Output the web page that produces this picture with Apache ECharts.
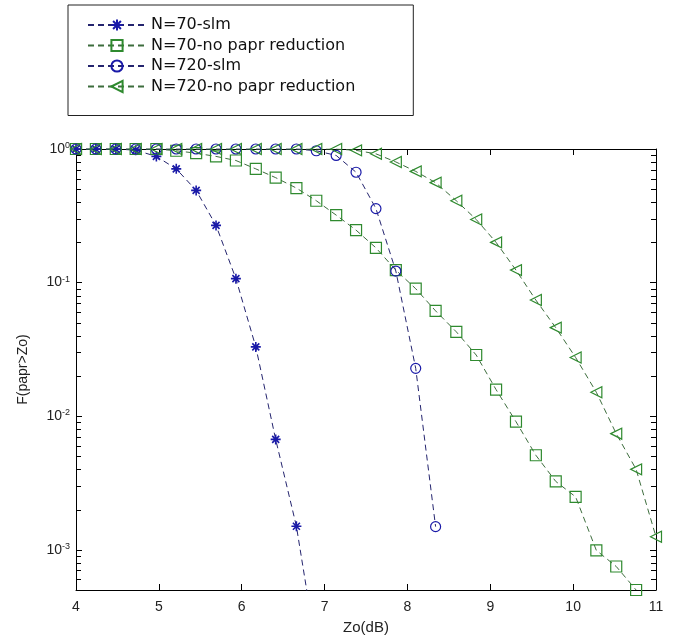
<!DOCTYPE html>
<html>
<head>
<meta charset="utf-8">
<script src="https://cdn.jsdelivr.net/npm/echarts@6/dist/echarts.min.js"></script>
<style>
  html, body { margin: 0; padding: 0; background: #fff; }
  #papr { width: 676px; height: 640px; }
</style>
</head>
<body>
<div id="papr"></div>
<script>
// Zo (dB) sample points, 30 points from 4 to 11
const zo = [4.00, 4.24, 4.48, 4.72, 4.97, 5.21, 5.45, 5.69, 5.93, 6.17,
  6.41, 6.66, 6.90, 7.14, 7.38, 7.62, 7.86, 8.10, 8.34, 8.59,
  8.83, 9.07, 9.31, 9.55, 9.79, 10.03, 10.28, 10.52, 10.76, 11.00]

// CCDF values
const n70Slm = [1, 1, 1, 0.98, 0.88, 0.71, 0.49, 0.268, 0.107, 0.033,
  0.0067, 0.0015, 0.00018]
const n70NoRed = [1, 1, 1, 1, 1, 0.97, 0.93, 0.88, 0.82, 0.71,
  0.61, 0.51, 0.41, 0.32, 0.247, 0.182, 0.124, 0.09, 0.0614, 0.0428,
  0.0287, 0.0158, 0.0091, 0.0051, 0.00325, 0.00249, 0.00099, 0.00075, 0.0005]
const n720Slm = [1, 1, 1, 1, 1, 1, 1, 1, 1, 1,
  1, 1, 0.97, 0.895, 0.67, 0.358, 0.122, 0.0228, 0.00149]
const n720NoRed = [1, 1, 1, 1, 1, 1, 1, 1, 1, 1,
  1, 1, 1, 1, 0.977, 0.92, 0.80, 0.68, 0.56, 0.41,
  0.297, 0.20, 0.124, 0.074, 0.046, 0.0275, 0.0151, 0.0074, 0.0040, 0.00125]

const seriesNames = ['N=70-slm', 'N=70-no papr reduction', 'N=720-slm', 'N=720-no papr reduction']

// log minor tick values (2..9 x 10^k)
const minorTicks = [6e-4, 7e-4, 8e-4, 9e-4,
  2e-3, 3e-3, 4e-3, 5e-3, 6e-3, 7e-3, 8e-3, 9e-3,
  2e-2, 3e-2, 4e-2, 5e-2, 6e-2, 7e-2, 8e-2, 9e-2,
  2e-1, 3e-1, 4e-1, 5e-1, 6e-1, 7e-1, 8e-1, 9e-1]

const blue = '#1a1aa8'
const blueLine = '#24246e'
const green = '#2f8a2f'
const greenLine = '#3d6d3d'

const starPath = 'path://M-5,0L5,0M0,-5L0,5M-3.5,-3.5L3.5,3.5M-3.5,3.5L3.5,-3.5'
const triPath = 'path://M-4.5,0L4,-5L4,5Z'

function pairs(vals) {
  return vals.map((v, i) => [zo[i], v])
}

function makeLine(name, vals, symbol, size, color, lineColor, bw) {
  return {
    name: name,
    type: 'line',
    data: pairs(vals),
    symbol: symbol,
    symbolSize: size,
    showAllSymbol: true,
    smooth: false,
    clip: true,
    lineStyle: { color: lineColor, width: 1, type: [6, 4] },
    itemStyle: { color: 'rgba(255,255,255,0)', borderColor: color, borderWidth: bw },
    emphasis: { disabled: true },
    z: 3
  }
}

const chart = echarts.init(document.getElementById('papr'))

const font = 'Liberation Sans, Arial, sans-serif'

const option = {
  animation: false,
  backgroundColor: '#fff',
  textStyle: { fontFamily: font },
  legend: {
    data: seriesNames,
    orient: 'vertical',
    left: 68,
    top: 5,
    padding: [12, 58, 21, 19],
    itemWidth: 58,
    itemHeight: 14,
    itemGap: 4.5,
    backgroundColor: '#fff',
    borderColor: '#222',
    borderWidth: 1,
    borderRadius: 0,
    selectedMode: false,
    textStyle: { fontFamily: 'DejaVu Sans', fontSize: 16, lineHeight: 16, color: '#111' }
  },
  grid: {
    left: 76,
    right: 20,
    top: 149,
    bottom: 47
  },
  xAxis: [
    {
      type: 'value',
      min: 4,
      max: 11,
      interval: 1,
      name: 'Zo(dB)',
      nameLocation: 'middle',
      nameGap: 30,
      nameTextStyle: { fontSize: 15, color: '#222' },
      axisLine: { onZero: false, lineStyle: { color: '#000', width: 1 } },
      axisTick: { inside: true, length: 6, lineStyle: { color: '#000' } },
      axisLabel: { fontSize: 14, color: '#222', margin: 10 },
      splitLine: { show: false }
    },
    {
      type: 'value',
      position: 'top',
      min: 4,
      max: 11,
      interval: 1,
      axisLine: { onZero: false, lineStyle: { color: '#000', width: 1 } },
      axisTick: { inside: true, length: 6, lineStyle: { color: '#000' } },
      axisLabel: { show: false },
      splitLine: { show: false }
    }
  ],
  yAxis: [
    {
      type: 'log',
      logBase: 10,
      min: 5e-4,
      max: 1,
      name: 'F(papr>Zo)',
      nameLocation: 'middle',
      nameGap: 46,
      nameTextStyle: { fontSize: 14, color: '#222' },
      axisLine: { onZero: false, lineStyle: { color: '#000', width: 1 } },
      axisTick: { inside: true, length: 6, lineStyle: { color: '#000' } },
      axisLabel: {
        margin: 6,
        formatter: function(v) {
          const e = Math.round(Math.log10(v))
          if (Math.abs(Math.log10(v) - e) > 1e-6) return ''
          return '{b|10}{s|' + e + '}'
        },
        rich: {
          b: { fontSize: 14, lineHeight: 16, color: '#222' },
          s: { fontSize: 9, lineHeight: 9, verticalAlign: 'top', color: '#222' }
        }
      },
      splitLine: { show: false }
    },
    {
      type: 'log',
      logBase: 10,
      position: 'right',
      min: 5e-4,
      max: 1,
      axisLine: { onZero: false, lineStyle: { color: '#000', width: 1 } },
      axisTick: { inside: true, length: 6, lineStyle: { color: '#000' } },
      axisLabel: { show: false },
      splitLine: { show: false }
    }
  ],
  series: [
    makeLine(seriesNames[0], n70Slm, starPath, 10, blue, blueLine, 1.6),
    makeLine(seriesNames[1], n70NoRed, 'rect', 11, green, greenLine, 1.2),
    makeLine(seriesNames[2], n720Slm, 'circle', 10, blue, blueLine, 1.2),
    makeLine(seriesNames[3], n720NoRed, triPath, 11, green, greenLine, 1.2),
    {
      // minor ticks of the log axis on both sides
      type: 'custom',
      silent: true,
      clip: false,
      data: minorTicks.map(v => [4, v]),
      encode: { x: 0, y: 1 },
      renderItem: function(params, api) {
        const v = api.value(1)
        const p1 = api.coord([4, v])
        const p2 = api.coord([11, v])
        const y = Math.round(p1[1]) + 0.5
        return {
          type: 'group',
          children: [
            { type: 'line', shape: { x1: p1[0], y1: y, x2: p1[0] + 5, y2: y }, style: { stroke: '#000', lineWidth: 1 } },
            { type: 'line', shape: { x1: p2[0], y1: y, x2: p2[0] - 5, y2: y }, style: { stroke: '#000', lineWidth: 1 } }
          ]
        }
      },
      z: 5
    }
  ]
}

chart.setOption(option)
</script>
</body>
</html>
